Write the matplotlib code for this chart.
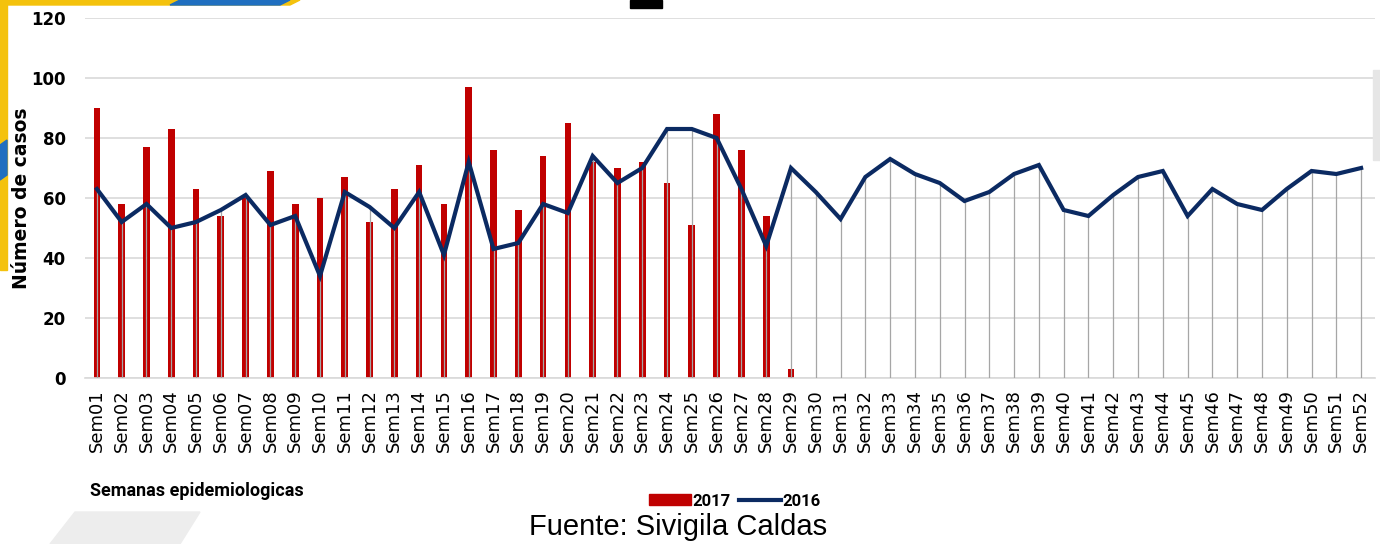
import numpy as np
import matplotlib
matplotlib.use("Agg")
import matplotlib.pyplot as plt
from matplotlib.patches import Rectangle, Polygon, Patch
from matplotlib.lines import Line2D

#Data
semanas = ["Sem%02d" % i for i in range(1, 53)]
casos_2017 = [90, 58, 77, 83, 63, 54, 60, 69, 58, 60, 67, 52, 63, 71, 58, 97, 76, 56,
              74, 85, 72, 70, 72, 65, 51, 88, 76, 54, 3]
casos_2016 = [63, 52, 58, 50, 52, 56, 61, 51, 54, 34, 62, 57, 50, 62, 41, 72, 43, 45,
              58, 55, 74, 65, 70, 83, 83, 80, 63, 44, 70, 62, 53, 67, 73, 68, 65, 59,
              62, 68, 71, 56, 54, 61, 67, 69, 54, 63, 58, 56, 63, 69, 68, 70]
y_ticks = [0, 20, 40, 60, 80, 100, 120]

#Colors
RED = "#c00000"
NAVY = "#0b2a62"
GRID = "#d9d9d9"
DROP = "#a6a6a6"

fig = plt.figure(figsize=(13.8, 5.44), dpi=100)
fig.patch.set_facecolor("white")

#Slide background bits
W, H = 1380.0, 544.0
def px(x, y):
    return (x / W, 1 - y / H)
fig.patches.append(Rectangle(px(0, 270), 7 / W, 270 / H, transform=fig.transFigure,
                             color="#f4c20d", zorder=0))
fig.patches.append(Polygon([px(0, 0), px(300, 0), px(290, 5), px(0, 5)], closed=True,
                           transform=fig.transFigure, color="#f4c20d", zorder=0))
fig.patches.append(Polygon([px(180, 0), px(290, 0), px(280, 5), px(170, 5)], closed=True,
                           transform=fig.transFigure, color="#1f6fc0", zorder=0))
fig.patches.append(Polygon([px(0, 145), px(7, 140), px(7, 175), px(0, 180)], closed=True,
                           transform=fig.transFigure, color="#1f6fc0", zorder=0))
fig.patches.append(Rectangle(px(630, 8), 32 / W, 8 / H, transform=fig.transFigure,
                             color="black", zorder=0))
fig.patches.append(Polygon([px(75, 512), px(200, 512), px(180, 544), px(50, 544)], closed=True,
                           transform=fig.transFigure, color="#ededed", zorder=0))
fig.patches.append(Rectangle(px(1373, 160), 7 / W, 90 / H, transform=fig.transFigure,
                             color="#e6e6e6", zorder=0))

ax = fig.add_axes([85 / W, 1 - 378 / H, 1290 / W, 360 / H])
ax.set_facecolor("none")

x = np.arange(len(semanas))
x17 = np.arange(len(casos_2017))

#Bars (2017), drop lines, line (2016)
ax.bar(x17, casos_2017, width=0.27, color=RED, zorder=2)
ax.vlines(x, 0, casos_2016, color=DROP, linewidth=0.9, zorder=3)
ax.plot(x, casos_2016, color=NAVY, linewidth=3.0, solid_joinstyle="miter", zorder=4)

ax.set_ylim(0, 120)
ax.set_xlim(-0.48, 51.56)
ax.set_yticks(y_ticks)
ax.set_yticklabels([str(v) for v in y_ticks], fontsize=12, fontweight="bold")
ax.set_xticks(x)
ax.set_xticklabels(semanas, rotation=90, fontsize=13)
ax.tick_params(axis="both", length=0)
ax.tick_params(axis="y", pad=14)
ax.tick_params(axis="x", pad=8)
ax.grid(axis="y", color=GRID, linewidth=1.2, zorder=0)
ax.set_axisbelow(True)
for s in ["top", "right", "left"]:
    ax.spines[s].set_visible(False)
ax.spines["bottom"].set_color(GRID)
ax.spines["bottom"].set_linewidth(1.2)

#Labels
fig.text(22 / W, 1 - 198 / H, "Número de casos", rotation=90, ha="center", va="center",
         fontsize=13.5, fontweight="bold")
fig.text(90 / W, 1 - 491 / H, "Semanas epidemiologicas", ha="left", va="center",
         fontsize=13, fontweight="bold", family="Roboto")
fig.text(678 / W, 1 - 527 / H, "Fuente: Sivigila Caldas", ha="center", va="center",
         fontsize=21, family="Liberation Sans")

#Legend
handles = [Patch(color=RED), Line2D([0], [0], color=NAVY, linewidth=3)]
fig.legend(handles, ["2017", "2016"], loc="center", bbox_to_anchor=(735 / W, 1 - 501 / H),
           ncol=2, frameon=False, handlelength=2.5, handleheight=0.6, handletextpad=0.1,
           columnspacing=0.5, prop={"weight": "bold", "size": 12, "family": "Roboto"})

fig.savefig("out.png", dpi=100)
